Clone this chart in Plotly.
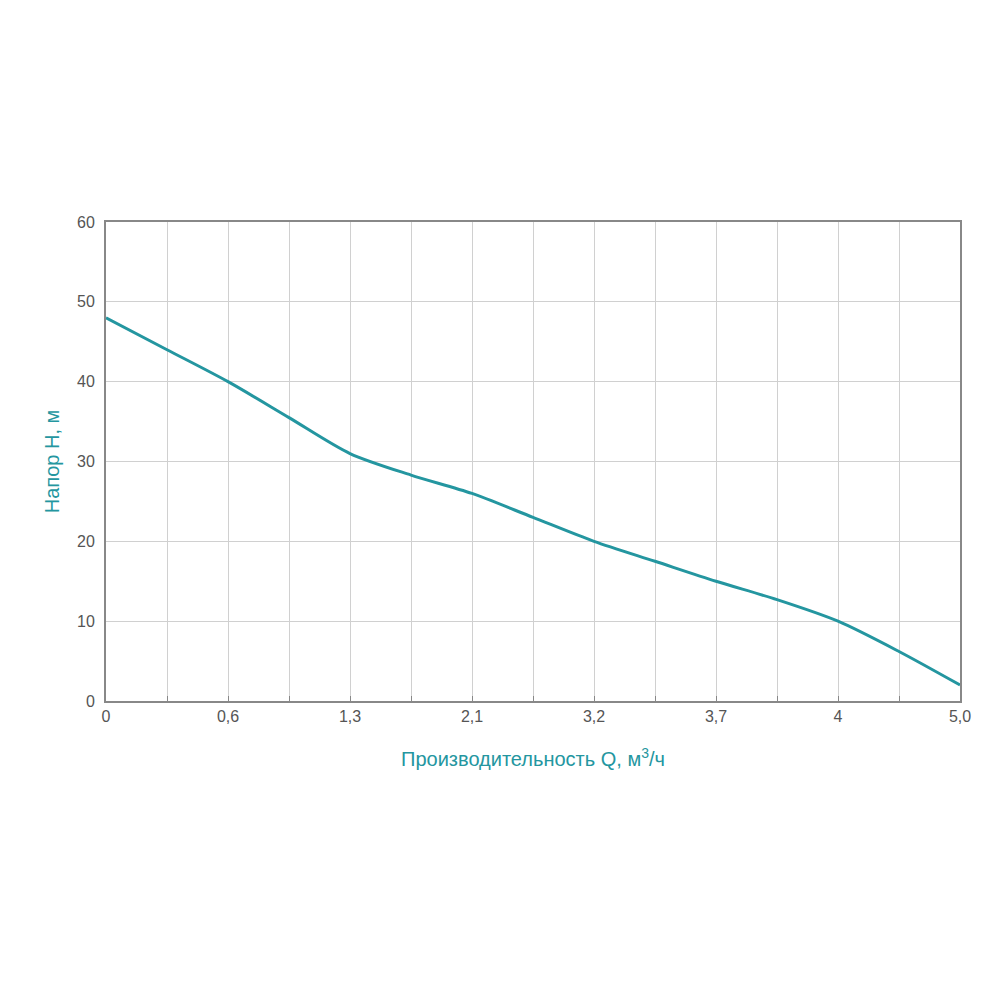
import plotly.graph_objects as go

# Подписи оси Q (через каждые два шага сетки)
q_labels = ["0", "0,6", "1,3", "2,1", "3,2", "3,7", "4", "5,0"]
# Шаги сетки, на которых снята кривая
curve_steps = [0, 1, 2, 3, 4, 5, 6, 7, 8, 9, 10, 11, 12, 13, 14]
head_m = [48, 44, 40, 35.5, 31, 28.3, 26, 23, 20, 17.5, 15, 12.7, 10, 6.2, 2]

TEAL = "#2496a0"

fig = go.Figure()
fig.add_trace(go.Scatter(
    x=curve_steps, y=head_m, mode="lines",
    line=dict(color=TEAL, width=3, shape="spline", smoothing=0.8),
    showlegend=False,
))

fig.update_layout(
    width=1000, height=1000,
    plot_bgcolor="white", paper_bgcolor="white",
    margin=dict(l=98, r=48, t=214, b=307),
    font=dict(family="Liberation Sans, Arial", size=16, color="#555"),
    xaxis=dict(
        range=[0, 14], tickmode="array",
        tickvals=list(range(0, 15, 2)), ticktext=q_labels,
        showgrid=True, gridcolor="#d0d0d0", gridwidth=1,
        minor=dict(dtick=1, showgrid=True, gridcolor="#d0d0d0",
                   ticks="inside", ticklen=5, tickcolor="#888"),
        ticks="inside", ticklen=5, tickcolor="#888",
        showline=True, linecolor="#888", linewidth=2, mirror=True,
        zeroline=False,
        title=dict(text="Производительность Q, м<sup>3</sup>/ч",
                   font=dict(size=20, color=TEAL), standoff=28),
    ),
    yaxis=dict(
        range=[0, 60], dtick=10,
        showgrid=True, gridcolor="#d0d0d0", gridwidth=1,
        showline=True, linecolor="#888", linewidth=2, mirror=True,
        zeroline=False, ticks="outside", ticklen=6, tickcolor="rgba(0,0,0,0)",
        title=dict(text="Напор H, м", font=dict(size=20, color=TEAL), standoff=12),
    ),
)

fig.write_html("out.html")
